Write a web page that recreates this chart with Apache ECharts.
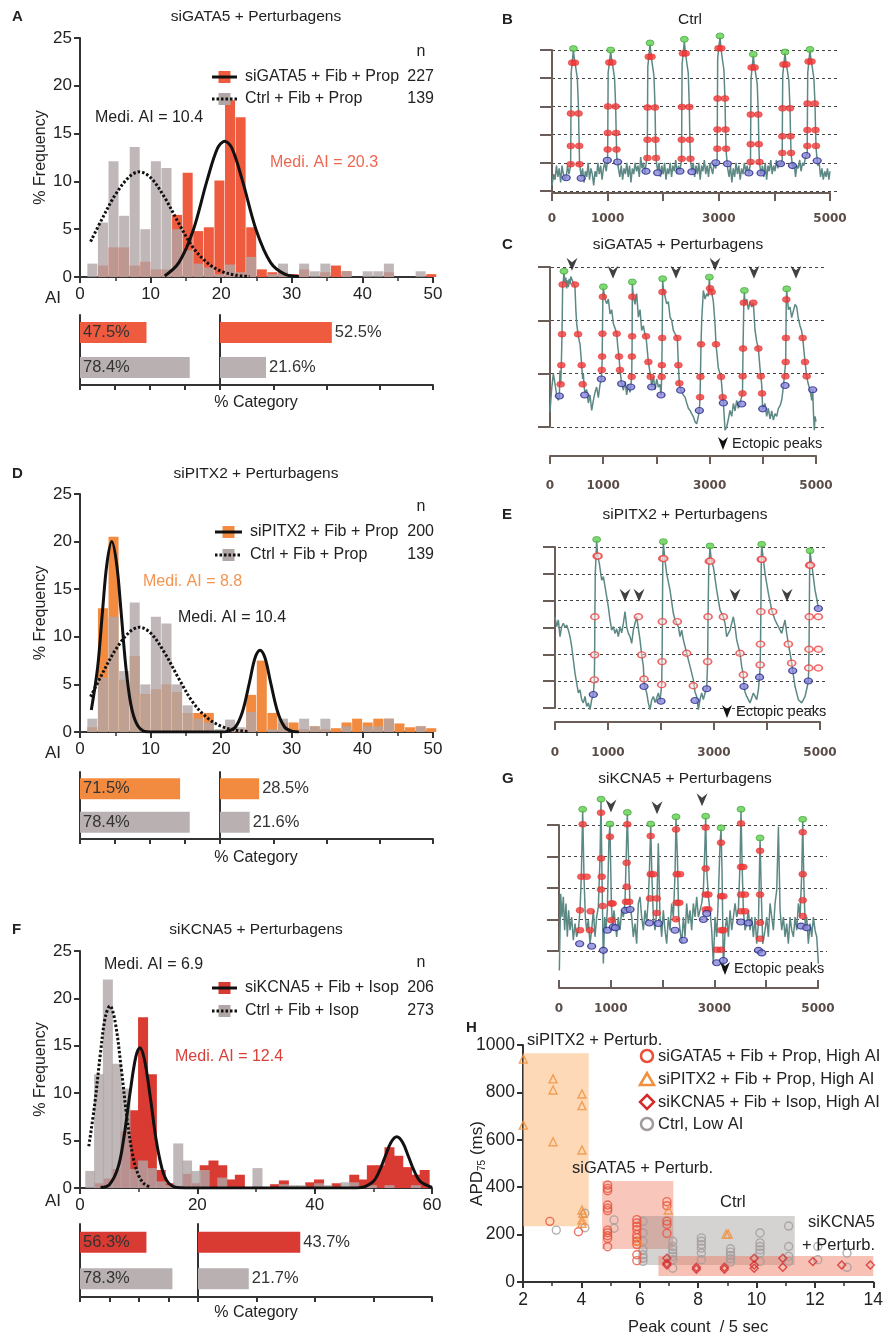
<!DOCTYPE html>
<html><head><meta charset="utf-8">
<script src="https://cdn.jsdelivr.net/npm/echarts@6/dist/echarts.min.js"></script>
<style>html,body{margin:0;padding:0;background:#fff}#chart{width:886px;height:1338px}</style>
</head><body><div id="chart"></div>
<script>
// ---------- histogram data (% frequency per AI bin) ----------
var bins50 = [1.75,3.25,4.75,6.25,7.75,9.25,10.75,12.25,13.75,15.25,16.75,18.25,19.75,21.25,22.75,24.25,25.75,27.25,28.75,30.25,31.75,33.25,34.75,36.25,37.75,39.25,40.75,42.25,43.75,45.25,46.75,48.25,49.75];
var bins60 = [1.75,3.25,4.75,6.25,7.75,9.25,10.75,12.25,13.75,15.25,16.75,18.25,19.75,21.25,22.75,24.25,25.75,27.25,28.75,30.25,31.75,33.25,34.75,36.25,37.75,39.25,40.75,42.25,43.75,45.25,46.75,48.25,49.75,51.25,52.75,54.25,55.75,57.25,58.75];

var ctrlProp = [1.4,5.7,12.1,6.4,13.6,5.0,12.1,11.4,5.0,2.8,1.4,1.0,0.3,1.3,0.5,2.1,0,0.3,1.4,0,1.4,0.6,1.4,0,0.6,0,0.6,0.6,1.4,0,0,0.6,0];
var siGATA5 = [0,1.2,3.1,3.1,1.2,1.6,0.8,0.8,6.5,10.9,4.8,5.2,10.1,18.5,16.7,5.2,0.8,0.5,0.5,0.3,0.8,0,0.5,1.2,0.6,0,0,0,0.5,0,0,0,0.3];
var siPITX2 = [0.5,13.0,20.5,5.5,8.0,4.0,4.5,5.0,4.2,2.0,2.0,2.0,0,0.3,0.3,3.9,7.5,2.0,1.0,1.0,0.3,0.6,0.3,0.4,1.0,1.4,1.0,1.4,1.4,0.9,0.5,0.6,0.4];
var ctrlIsop = [1.8,12,22,13.1,10.5,2,2.9,2.1,0.7,0.3,4.7,2.9,1.8,1.9,0,1.1,0,0,0,2.1,0,0,0.4,0.3,0.3,0,0.5,0.3,0,0.6,0.6,0,0.3,0,0.3,0,0,0.3,0];
var siKCNA5 = [0,0.5,1,2,6,8.2,18,12,1.9,0.5,0,1.5,0.5,2.4,2.9,2.4,0.9,1.4,0,0,0,0.4,0.8,0,0,0.6,0.9,0,0.5,0,1.4,0.9,2.4,2.4,4.3,3.4,2.2,1.4,1.9];

// fitted curves
var fitCtrlProp = [[1.5,3.7],[3,5.9],[5,8.6],[7,10.5],[8.4,11],[10,10.4],[12,8.3],[14,5.6],[16,3.1],[18,1.5],[20,0.6],[22,0.2],[24,0.05]];
var fitGATA5 = [[12,0.1],[14,1.5],[16,4.8],[18,10.1],[19.5,13.5],[20.5,14.2],[21.5,13.5],[23,10.1],[25,4.8],[27,1.5],[29,0.3],[31,0.05]];
var fitPITX2 = [[1.6,2.3],[2.5,6.8],[3.2,12.8],[3.8,17.6],[4.5,20],[5.2,17.6],[5.8,12.8],[6.5,6.8],[7.2,2.9],[8,0.9],[9,0.1],[10,0],[15,0],[20,0],[21,0.1],[22,0.5],[23,2.1],[24,5.2],[24.8,7.8],[25.5,8.6],[26.2,7.8],[27,5.2],[28,2.1],[29,0.5],[30,0.1],[31,0]];
var fitCtrlIsop = [[1.5,4.4],[2.5,8.8],[3.5,14.3],[4.3,18],[5.1,19.2],[6,17.5],[7,12.8],[8,7.4],[9,3.4],[10,1.3],[11,0.4],[12,0.1]];
var fitKCNA5 = [[3.5,0.05],[5,0.35],[6.5,2.2],[7.5,5.4],[8.5,9.9],[9.5,13.8],[10.2,14.8],[11,13.5],[12,9.5],[13,5.0],[14,2.0],[15,0.6],[16.5,0.05],[18,0],[30,0],[46,0],[48,0.06],[50,0.7],[51,1.75],[52,3.3],[53,4.8],[54,5.4],[55,4.8],[56,3.3],[57,1.75],[58,0.7],[60,0.06]];

// % category (AI < 20 , AI >= 20): [perturbed, ctrl]
var catA_low = [47.5,78.4], catA_high = [52.5,21.6];
var catD_low = [71.5,78.4], catD_high = [28.5,21.6];
var catF_low = [56.3,78.3], catF_high = [43.7,21.7];

// ---------- traces: [time ms, level] ----------
var timeLabels = [0,1000,3000,5000];

var traceB = [[0,0.2],[30,0.6],[55,0.4],[80,0.9],[105,0.5],[130,0.8],[155,0.3],[180,0.9],[205,0.6],[230,0.4],[255,0.5],[280,0.9],[305,0.6],[335,0.9],
[340,2.5],[345,4.2],[365,4.6],[385,5.0],[400,4.7],[425,4.4],[455,4.0],[475,3.0],[485,2.0],[495,1.0],[525,0.5],
[550,0.8],[575,0.3],[600,0.7],[625,0.5],[650,1.0],[675,0.4],[700,0.8],[725,0.6],[750,0.2],[775,0.7],[800,0.5],[825,1.0],[850,0.6],[875,0.9],[900,0.4],[925,0.8],[950,1.0],[975,0.7],[1000,1.1],
[1005,2.6],[1010,4.2],[1035,4.6],[1055,4.95],[1070,4.7],[1095,4.4],[1125,4.0],[1145,3.0],[1155,2.0],[1165,1.2],[1195,0.8],
[1220,0.5],[1245,0.9],[1270,0.4],[1295,0.8],[1320,0.6],[1345,1.0],[1370,0.5],[1395,0.9],[1420,0.3],[1445,0.8],[1470,0.6],[1495,1.0],[1520,0.7],[1545,0.9],[1570,0.5],[1595,1.2],[1620,0.8],[1645,1.0],[1670,0.6],[1700,1.1],[1713,1.2],
[1718,2.8],[1723,4.4],[1743,4.8],[1763,5.2],[1778,4.9],[1803,4.5],[1833,4.1],[1853,3.0],[1863,1.8],[1873,1.1],[1900,0.7],
[1925,1.0],[1950,0.5],[1975,0.9],[2000,0.6],[2025,1.0],[2050,0.4],[2075,0.8],[2100,0.6],[2125,1.0],[2150,0.5],[2175,0.9],[2200,0.7],[2225,1.1],[2250,0.6],[2275,0.9],[2300,0.7],[2330,1.1],
[2335,2.9],[2340,4.5],[2360,4.9],[2380,5.3],[2395,5.0],[2420,4.6],[2450,4.2],[2470,3.0],[2480,1.8],[2490,1.1],[2515,0.7],
[2540,1.0],[2565,0.5],[2590,0.9],[2615,0.6],[2640,1.0],[2665,0.4],[2690,0.9],[2715,0.7],[2740,1.1],[2765,0.6],[2790,0.9],[2815,0.5],[2840,1.0],[2865,0.8],[2890,0.6],[2915,1.0],[2945,0.8],[2970,1.1],
[2975,3.0],[2980,4.7],[3000,5.1],[3022,5.45],[3037,5.1],[3062,4.7],[3092,4.3],[3112,3.2],[3122,2.1],[3132,1.4],[3160,0.8],
[3185,0.5],[3210,0.9],[3235,0.3],[3260,0.8],[3285,0.5],[3310,1.0],[3335,0.6],[3360,0.9],[3385,0.4],[3410,0.8],[3435,0.6],[3460,1.0],[3485,0.7],[3510,0.9],[3540,0.6],[3570,1.0],
[3575,2.6],[3580,4.0],[3600,4.4],[3621,4.8],[3636,4.5],[3661,4.2],[3691,3.8],[3711,2.7],[3721,1.6],[3731,1.0],[3760,0.6],
[3785,0.9],[3810,0.5],[3835,1.0],[3860,0.4],[3885,0.9],[3910,0.7],[3935,1.1],[3960,0.6],[3985,0.9],[4010,0.7],[4035,1.1],[4060,0.8],[4085,1.0],[4110,0.9],[4140,1.1],
[4145,2.8],[4150,4.1],[4170,4.5],[4191,4.9],[4206,4.6],[4231,4.3],[4261,3.9],[4281,2.9],[4291,1.9],[4301,1.3],[4330,0.8],
[4355,1.0],[4380,0.5],[4405,0.9],[4430,0.8],[4455,1.1],[4480,0.7],[4505,1.0],[4530,0.9],[4560,1.2],[4590,1.3],
[4595,3.0],[4600,4.2],[4620,4.6],[4640,5.0],[4655,4.7],[4680,4.4],[4710,4.0],[4730,3.1],[4740,2.2],[4750,1.5],[4780,0.9],
[4805,1.0],[4830,0.5],[4855,0.8],[4880,0.4],[4905,0.7],[4930,0.5],[4955,0.8],[4980,0.4],[5000,0.7]];
var peaksB = [[385,5.05],[1055,5.0],[1763,5.25],[2380,5.38],[3022,5.5],[3621,4.85],[4191,4.93],[4640,5.02]];
var redB = [[362,4.55],[412,4.55],[340,2.75],[478,2.75],[338,1.6],[489,1.6],[336,0.95],[495,0.95],
[1030,4.56],[1085,4.56],[1006,3.0],[1145,3.0],[1004,2.06],[1154,2.06],[1002,1.47],[1160,1.47],
[1740,4.76],[1790,4.76],[1719,2.96],[1853,2.96],[1717,1.82],[1862,1.82],[1715,1.17],[1871,1.17],
[2355,4.88],[2405,4.88],[2336,2.98],[2470,2.98],[2334,1.82],[2480,1.82],[2332,1.14],[2490,1.14],
[2995,5.06],[3045,5.06],[2977,3.28],[3112,3.28],[2975,2.18],[3122,2.18],[2973,1.5],[3131,1.5],
[3590,4.38],[3645,4.38],[3576,2.71],[3711,2.71],[3574,1.66],[3721,1.66],[3572,1.03],[3731,1.03],
[4162,4.49],[4215,4.49],[4146,2.93],[4281,2.93],[4144,1.94],[4291,1.94],[4142,1.35],[4300,1.35],
[4615,4.59],[4668,4.59],[4596,3.1],[4729,3.1],[4594,2.16],[4740,2.16],[4592,1.6],[4748,1.6]];
var blueB = [[255,0.47],[525,0.45],[995,1.09],[1180,1.03],[1690,0.7],[1900,0.65],[2300,0.7],[2515,0.68],[2945,1.0],[3155,0.97],[3540,0.64],[3760,0.64],[4110,0.97],[4325,0.9],[4570,1.26],[4770,1.07]];

var traceC = [[0,0.28],[30,0.7],[62,1.0],[94,0.81],[125,0.6],[156,0.5],[175,0.58],[187,1.06],[200,0.8],[212,1.16],[225,1.74],[237,2.67],[250,2.75],[262,2.89],[281,2.7],[297,2.8],[312,2.6],[328,2.75],[344,2.62],[360,2.78],[375,2.68],[390,2.82],[406,2.84],[437,2.7],[468,2.62],[484,2.2],[500,1.94],[525,1.74],[550,1.6],[562,1.56],[593,1.16],[612,0.9],[624,1.0],[640,0.75],[656,0.63],[687,0.7],[718,0.45],[749,0.6],[781,0.31],[812,0.5],[843,0.65],[874,0.75],[905,0.55],[937,0.8],[962,0.9],[975,1.2],[980,1.6],[990,2.44],[999,2.6],[1030,2.4],[1062,2.31],[1093,2.4],[1124,2.12],[1155,2.2],[1186,1.94],[1218,1.85],[1249,1.75],[1270,1.5],[1292,1.32],[1311,1.07],[1342,0.81],[1374,0.69],[1405,0.85],[1436,0.6],[1467,0.8],[1498,0.65],[1511,0.75],[1530,0.94],[1537,1.5],[1542,2.69],[1561,2.44],[1592,2.3],[1623,2.5],[1655,2.06],[1686,2.2],[1717,1.81],[1748,1.9],[1775,1.75],[1798,1.7],[1842,1.22],[1886,0.94],[1904,0.75],[1936,0.95],[1967,0.7],[1998,0.9],[2029,0.75],[2060,0.8],[2079,0.6],[2092,0.94],[2100,1.6],[2110,2.75],[2123,2.6],[2154,2.45],[2185,2.31],[2216,2.35],[2248,2.06],[2279,2.0],[2310,1.81],[2341,1.75],[2385,1.67],[2404,1.16],[2422,0.82],[2447,0.69],[2466,0.72],[2497,0.6],[2529,0.56],[2560,0.45],[2591,0.35],[2622,0.31],[2653,0.25],[2685,0.19],[2716,0.1],[2747,0.06],[2778,0.2],[2797,0.31],[2810,0.56],[2828,1.55],[2841,2.0],[2872,2.56],[2903,2.4],[2934,2.5],[2966,2.45],[2984,2.78],[2997,2.6],[3028,2.53],[3059,2.35],[3090,1.94],[3109,1.55],[3153,1.1],[3203,0.94],[3234,0.56],[3247,0.45],[3278,-0.06],[3309,0.0],[3340,0.15],[3371,0.31],[3403,0.2],[3434,0.44],[3465,0.3],[3496,0.5],[3527,0.35],[3559,0.45],[3590,0.43],[3605,0.63],[3615,1.47],[3630,2.33],[3640,2.53],[3652,2.3],[3684,2.4],[3715,2.2],[3746,2.35],[3777,2.25],[3808,2.33],[3840,1.81],[3871,1.6],[3902,1.47],[3933,1.1],[3964,0.8],[3983,0.34],[4027,0.44],[4058,0.2],[4089,0.35],[4121,0.15],[4152,0.3],[4183,0.13],[4214,0.25],[4245,0.2],[4277,0.35],[4308,0.4],[4339,0.5],[4370,0.75],[4402,0.78],[4414,1.22],[4425,2.39],[4433,2.56],[4464,2.2],[4495,2.25],[4526,2.05],[4558,2.06],[4589,2.3],[4620,2.25],[4651,2.03],[4682,1.9],[4713,1.8],[4732,1.67],[4776,1.22],[4807,0.95],[4838,0.8],[4870,0.69],[4901,0.5],[4920,0.7],[4932,0.31],[4950,-0.06],[4963,0.2],[4982,0.1]];
var peaksC = [[262,2.92],[999,2.63],[1542,2.72],[2110,2.78],[2984,2.81],[3640,2.56],[4433,2.59]];
var redC = [[200,0.8],[212,1.16],[225,1.74],[237,2.67],[468,2.67],[525,1.74],[593,1.16],[612,0.8],
[970,1.07],[976,1.32],[982,1.75],[990,2.44],[1249,1.75],[1292,1.32],[1311,1.07],
[1530,0.94],[1534,1.32],[1538,1.7],[1541,2.44],[1798,1.7],[1842,1.22],[1886,0.94],
[2092,0.94],[2095,1.16],[2101,1.67],[2107,2.53],[2385,1.67],[2404,1.16],[2422,0.82],
[2810,0.56],[2817,0.94],[2828,1.55],[2997,2.6],[3028,2.53],[3109,1.55],[3203,0.94],[3234,0.56],
[3605,0.63],[3609,0.95],[3615,1.47],[3630,2.33],[3808,2.33],[3902,1.47],[3948,0.95],[3971,0.63],
[4408,0.95],[4414,1.22],[4418,1.67],[4425,2.39],[4732,1.67],[4776,1.22],[4807,0.95]];
var blueC = [[175,0.58],[650,0.6],[962,0.9],[1342,0.81],[1511,0.75],[1904,0.75],[2079,0.6],[2447,0.69],[2797,0.31],[3247,0.45],[3590,0.43],[3983,0.34],[4402,0.78],[4920,0.7]];
var arrowsC = [[412,3.05],[1180,2.9],[2360,2.9],[3090,3.05],[3820,2.9],[4607,2.9]];

var traceE = [[0,3.4],[32,3.03],[63,3.28],[94,2.66],[126,3.03],[157,3.16],[189,3.0],[220,3.09],[252,2.9],[283,2.66],[315,2.29],[346,1.79],[377,1.3],[409,0.93],[440,0.56],[472,0.68],[503,0.31],[535,0.19],[566,0.43],[598,0.06],[629,0.19],[661,-0.06],[692,0.31],[723,0.5],[742,1.05],[748,2.0],[752,3.4],[760,5.0],[786,6.25],[805,5.66],[837,5.38],[881,4.76],[912,4.9],[944,4.52],[975,4.15],[1006,3.77],[1038,3.28],[1069,2.9],[1101,3.03],[1132,2.78],[1164,2.95],[1195,2.66],[1227,3.03],[1258,2.8],[1290,3.16],[1321,3.59],[1352,3.03],[1384,2.78],[1415,2.66],[1447,2.41],[1478,2.9],[1510,3.16],[1541,3.4],[1573,3.47],[1604,2.54],[1635,1.98],[1667,1.55],[1679,1.08],[1695,0.8],[1730,0.56],[1761,0.19],[1793,-0.06],[1825,0.3],[1856,0.43],[1888,0.2],[1919,0.19],[1950,0.56],[1981,0.25],[2000,0.25],[2013,0.87],[2020,1.73],[2026,3.22],[2034,5.57],[2044,6.16],[2075,5.5],[2107,5.01],[2170,4.39],[2233,3.53],[2264,3.28],[2296,3.22],[2327,3.03],[2359,2.66],[2390,2.9],[2422,2.54],[2485,2.04],[2548,1.55],[2610,1.05],[2642,0.6],[2673,0.43],[2705,-0.06],[2736,0.31],[2768,0.56],[2799,0.31],[2831,0.56],[2862,0.72],[2880,1.73],[2888,3.4],[2900,5.2],[2925,6.0],[2950,5.47],[2988,5.26],[3051,4.39],[3114,3.65],[3177,3.4],[3208,3.16],[3239,2.66],[3302,2.9],[3365,3.4],[3397,3.03],[3428,2.54],[3491,2.04],[3522,1.55],[3554,1.24],[3566,0.8],[3585,0.6],[3617,0.43],[3680,0.19],[3743,0.56],[3806,0.31],[3837,0.68],[3860,1.15],[3872,1.61],[3878,2.38],[3884,3.59],[3892,5.54],[3900,6.06],[3963,5.01],[4026,4.27],[4089,3.65],[4107,3.59],[4151,3.28],[4214,3.03],[4277,2.78],[4340,3.28],[4372,2.78],[4403,2.38],[4435,2.04],[4466,1.67],[4485,1.39],[4529,0.8],[4592,0.31],[4655,0.19],[4718,0.43],[4760,0.8],[4780,1.01],[4788,1.49],[4793,2.19],[4798,3.4],[4805,5.32],[4812,5.82],[4875,4.89],[4906,4.39],[4938,4.08],[4969,3.71]];
var peaksE = [[786,6.28],[2044,6.2],[2925,6.04],[3900,6.1],[4812,5.86]];
var redE = [[742,1.05],[748,1.98],[752,3.4],[795,5.66],[812,5.66],[1573,3.4],[1635,1.98],[1679,1.08],
[2013,0.87],[2020,1.73],[2026,3.22],[2034,5.57],[2052,5.57],[2308,3.22],[2485,2.04],[2610,0.83],
[2880,1.73],[2888,3.4],[2912,5.47],[2935,5.47],[3177,3.4],[3491,2.04],[3554,1.24],
[3872,1.61],[3878,2.38],[3884,3.59],[3892,5.54],[3908,5.54],[4107,3.59],[4403,2.38],[4466,1.67],
[4788,1.49],[4793,2.19],[4798,3.4],[4805,5.32],[4822,5.32],[4969,3.4],[4969,2.19],[4969,1.49]];
var blueE = [[723,0.5],[1679,0.8],[2000,0.25],[2642,0.28],[2862,0.72],[3566,0.8],[3860,1.15],[4485,1.39],[4780,1.01],[4969,3.71]];
var arrowsE = [[1321,4.2],[1585,4.2],[3397,4.2],[4378,4.2]];

var traceG = [[7,-0.62],[32,1.82],[58,1.08],[83,1.72],[109,0.66],[134,1.51],[160,0.45],[185,1.29],[211,0.66],[243,1.08],[275,0.34],[307,0.87],[339,0.45],[371,0.66],[403,1.29],[428,2.36],[454,4.45],[479,2.36],[505,1.08],[530,0.66],[562,0.98],[594,0.23],[626,0.66],[658,1.29],[690,0.45],[722,1.08],[754,1.40],[786,2.94],[805,4.77],[824,2.36],[850,-0.4],[875,1.08],[901,0.66],[926,1.29],[958,3.63],[977,3.98],[1003,1.51],[1028,0.76],[1054,1.29],[1080,0.87],[1105,0.45],[1137,1.08],[1169,0.66],[1201,1.29],[1233,1.08],[1265,1.56],[1284,2.78],[1309,4.35],[1335,2.78],[1361,1.40],[1393,1.08],[1424,0.45],[1456,0.87],[1488,0.23],[1520,1.51],[1552,1.72],[1584,1.08],[1616,0.66],[1648,1.29],[1680,0.92],[1712,1.67],[1731,2.46],[1757,3.98],[1782,2.25],[1808,1.08],[1840,0.66],[1872,1.29],[1903,3.42],[1935,1.08],[1967,0.45],[1999,1.29],[2031,0.66],[2063,0.23],[2095,1.08],[2127,0.66],[2159,1.51],[2191,1.08],[2223,2.46],[2242,4.21],[2268,2.99],[2293,1.08],[2319,0.66],[2351,0.23],[2383,1.08],[2414,0.45],[2446,1.51],[2478,0.87],[2510,1.29],[2542,0.66],[2574,1.51],[2606,1.08],[2638,1.72],[2670,1.08],[2702,1.29],[2734,1.51],[2766,1.93],[2791,3.10],[2810,4.23],[2830,2.57],[2862,1.72],[2893,1.29],[2925,0.66],[2957,-0.40],[2989,1.08],[3021,0.45],[3053,1.72],[3085,3.42],[3104,3.86],[3123,2.57],[3149,-0.62],[3181,0.66],[3213,1.08],[3245,0.45],[3277,1.29],[3309,0.66],[3341,1.08],[3372,1.51],[3404,1.08],[3436,1.29],[3468,2.78],[3487,4.45],[3507,2.78],[3532,1.29],[3564,0.66],[3596,0.87],[3628,1.29],[3660,0.66],[3692,1.08],[3724,0.45],[3756,1.08],[3788,0.23],[3820,0.87],[3852,3.54],[3877,1.72],[3903,0.23],[3947,0.66],[3979,1.08],[4011,0.45],[4043,1.51],[4075,1.08],[4107,0.66],[4139,1.51],[4171,1.93],[4203,3.95],[4235,1.29],[4267,0.66],[4299,1.08],[4331,0.45],[4362,0.87],[4394,0.23],[4426,1.08],[4458,0.66],[4490,0.45],[4522,1.08],[4554,0.66],[4586,1.51],[4618,1.08],[4650,2.46],[4669,4.13],[4694,1.93],[4720,0.66],[4746,1.08],[4777,0.23],[4809,0.87],[4841,0.45],[4873,1.08],[4905,0.66],[4937,0.45],[4969,-0.40]];
var peaksG = [[454,4.5],[805,4.82],[977,4.03],[1309,4.4],[1757,4.03],[2242,4.26],[2810,4.28],[3104,3.91],[3487,4.5],[3852,3.59],[4669,4.18]];
var redG = [[454,4.02],[428,2.36],[530,2.36],[403,1.29],[403,0.66],[594,0.66],[607,1.26],
[805,4.39],[805,2.94],[818,2.36],[805,1.95],[837,1.43],
[977,3.63],[1003,1.51],[1028,1.51],[1003,0.98],
[1309,4.02],[1297,2.80],[1297,2.04],[1284,1.56],[1345,1.56],
[1757,3.65],[1757,2.44],[1808,2.44],[1744,1.67],[1872,1.67],[1872,1.21],
[2242,3.86],[2255,2.44],[2319,2.44],[2255,1.53],[2306,1.53],[2242,1.01],
[2810,3.92],[2810,2.62],[2810,1.79],[2862,1.79],[2810,1.32],[2862,1.32],
[3104,3.44],[3104,1.74],[3149,1.74],[3104,0.66],[3149,0.66],[3021,0.04],[3104,0.04],
[3487,4.05],[3487,2.67],[3532,2.67],[3487,1.79],[3564,1.79],[3487,1.26],[3564,1.26],
[3852,3.18],[3852,1.79],[3852,0.9],[3852,0.39],
[4669,3.77],[4669,2.44],[4669,1.61],[4669,1.11]];
var blueG = [[396,0.23],[626,0.15],[850,0.02],[926,0.66],[1041,0.76],[1080,0.74],[1271,1.29],[1361,1.32],[1731,0.89],[1903,0.87],[2223,0.66],[2383,0.34],[2766,1.0],[2830,1.19],[3021,-0.37],[3149,-0.3],[3481,0.92],[3628,0.89],[3820,0.02],[3884,-0.06],[4637,0.79],[4746,0.74]];
var arrowsG = [[996,4.6],[1878,4.55],[2740,4.8]];

// ---------- panel H: APD75 vs peak count ----------
var gata5H = [[2.92,256],[3.9,212],[4.9,409],[4.9,395],[4.9,385],[4.9,325],[4.9,311],[4.9,301],[4.9,219],[4.9,208],[4.9,195],[4.9,184],[4.9,149],[5.9,263],[5.9,249],[5.9,235],[5.9,221],[5.9,200],[5.9,186],[5.9,172],[5.9,158],[5.9,115],[5.9,90],[6.93,339],[6.93,322],[6.93,257],[6.93,243],[6.93,205]];
var pitx2H = [[2.01,941],[2.01,662],[3.03,857],[3.03,810],[3.03,592],[4.02,793],[4.02,744],[4.02,557],[4.02,304],[4.05,290],[4.02,262],[4.02,248],[5.94,173],[6.98,304],[8.96,202],[9.03,202]];
var kcna5H = [[6.93,100],[6.93,79],[6.93,72],[7.94,62],[7.94,54],[8.9,62],[8.9,54],[9.92,100],[9.92,72],[9.92,58],[10.9,100],[10.9,62],[11.93,86],[12.92,72],[13.9,72]];
var ctrlH = [[3.14,219],[4.12,229],[4.12,290],[5.12,262],[5.12,227],[6.11,256],[6.11,207],[6.11,172],[6.11,136],[6.11,115],[6.11,101],[6.11,87],[7.13,58],[7.13,172],[7.13,150],[7.13,136],[7.13,122],[7.13,108],[7.13,94],[8.11,186],[8.11,172],[8.11,158],[8.11,143],[8.11,122],[8.11,94],[9.11,140],[9.11,126],[9.11,112],[9.11,98],[9.11,84],[10.12,207],[10.12,165],[10.12,150],[10.12,136],[10.12,122],[10.12,87],[11.1,236],[11.1,150],[11.1,108],[11.1,87],[12.1,150],[12.1,94],[13.1,122],[13.1,62]];
// shaded ranges [x0, x1, y0, y1]
var boxPITX2 = [2, 4.25, 235, 965];
var boxGATA5 = [4.71, 7.15, 139, 426];
var boxCtrl = [5.97, 11.31, 72, 278];
var boxKCNA5 = [6.64, 14.1, 25, 110];

// ---------- build ----------
var FONT = "'Liberation Sans',Arial,sans-serif";
var AX = '#333333';
var TAX = '#6b5d57';
var GRAY = '#b0a6a6', GRAY2 = '#b9b1b1';
var RED_A = '#ef5b3f', ORANGE = '#f28b40', RED_F = '#d93a32';

var grids = [], xAxes = [], yAxes = [], series = [], graphics = [];

function addGrid(l, t, w, h) { grids.push({ left: l, top: t, width: w, height: h }); return grids.length - 1; }

function histPanel(top, w, h, xmax, xint, binX, fg, bg, fgColor, solid, dotted) {
  var g = addGrid(80, top, w, h);
  xAxes.push({ gridIndex: g, type: 'value', min: 0, max: xmax, interval: xint,
    axisLine: { lineStyle: { color: AX, width: 2 } },
    axisTick: { length: 6, lineStyle: { color: AX, width: 2 } },
    minorTick: { show: true, splitNumber: 2, length: 4, lineStyle: { color: AX, width: 1.5 } },
    splitLine: { show: false },
    axisLabel: { fontFamily: FONT, fontSize: 17, color: '#222', margin: 9 } });
  yAxes.push({ gridIndex: g, type: 'value', min: 0, max: 25, interval: 5,
    name: '% Frequency', nameLocation: 'middle', nameGap: 31, nameMoveOverlap: false,
    nameTextStyle: { fontFamily: FONT, fontSize: 16, color: '#222' },
    axisLine: { show: true, lineStyle: { color: AX, width: 2 } },
    axisTick: { show: true, length: 6, lineStyle: { color: AX, width: 2 } },
    splitLine: { show: false },
    axisLabel: { fontFamily: FONT, fontSize: 17, color: '#222', margin: 8 } });
  var xi = xAxes.length - 1, yi = yAxes.length - 1;
  series.push({ type: 'bar', xAxisIndex: xi, yAxisIndex: yi, barWidth: 10, barGap: '-100%', silent: true,
    data: binX.map(function (x, i) { return [x, fg[i]]; }), itemStyle: { color: fgColor } });
  series.push({ type: 'bar', xAxisIndex: xi, yAxisIndex: yi, barWidth: 10, barGap: '-100%', silent: true,
    data: binX.map(function (x, i) { return [x, bg[i]]; }), itemStyle: { color: GRAY, opacity: 0.8 } });
  series.push({ type: 'line', xAxisIndex: xi, yAxisIndex: yi, data: solid, smooth: 0.35, showSymbol: false, silent: true,
    lineStyle: { color: '#111', width: 3 }, z: 5 });
  series.push({ type: 'line', xAxisIndex: xi, yAxisIndex: yi, data: dotted, smooth: 0.35, showSymbol: false, silent: true,
    lineStyle: { color: '#111', width: 3, type: [2.5, 2] }, z: 5 });
}

function catGrid(left, top, w, h, max, vals, color, labelPos) {
  var g = addGrid(left, top, w, h);
  xAxes.push({ gridIndex: g, type: 'value', min: 0, max: max, interval: max / 4,
    axisLine: { show: true, lineStyle: { color: AX, width: 2 } },
    axisTick: { show: true, length: 5, lineStyle: { color: AX, width: 2 } },
    axisLabel: { show: false }, splitLine: { show: false } });
  yAxes.push({ gridIndex: g, type: 'category', data: ['pert', 'ctrl'], inverse: true,
    axisLine: { show: true, lineStyle: { color: AX, width: 2 } },
    axisTick: { show: false }, axisLabel: { show: false } });
  series.push({ type: 'bar', xAxisIndex: xAxes.length - 1, yAxisIndex: yAxes.length - 1, barWidth: 21, silent: true,
    data: [{ value: vals[0], itemStyle: { color: color } }, { value: vals[1], itemStyle: { color: GRAY2 } }],
    label: { show: true, position: labelPos, distance: 3, formatter: '{c}%', fontFamily: FONT, fontSize: 16.5, color: '#333' } });
}

function tracePanel(l, t, w, h, ymax, tmin, tmax, trace, peaks, red, blue, arrows, hollowRed) {
  var g = addGrid(l, t, w, h);
  xAxes.push({ gridIndex: g, type: 'value', min: tmin, max: tmax, show: false });
  yAxes.push({ gridIndex: g, type: 'value', min: 0, max: ymax, interval: 1,
    axisLine: { show: true, lineStyle: { color: TAX, width: 2 } },
    axisTick: { show: true, length: 12, lineStyle: { color: TAX, width: 2 } },
    axisLabel: { show: false },
    splitLine: { show: true, lineStyle: { color: '#444', width: 1, type: [3, 3] } } });
  var xi = xAxes.length - 1, yi = yAxes.length - 1;
  series.push({ type: 'line', xAxisIndex: xi, yAxisIndex: yi, data: trace, showSymbol: false, clip: false, silent: true,
    lineStyle: { color: '#5d8985', width: 1.5 }, z: 2 });
  series.push({ type: 'scatter', xAxisIndex: xi, yAxisIndex: yi, data: red, clip: false, silent: true, symbolSize: [8, 6], z: 3,
    itemStyle: hollowRed ? { color: 'rgba(255,220,220,0.6)', borderColor: '#e84545', borderWidth: 1.5 } : { color: '#f03a3a', borderColor: '#e02020', borderWidth: 0.5 } });
  series.push({ type: 'scatter', xAxisIndex: xi, yAxisIndex: yi, data: blue, clip: false, silent: true, symbolSize: [8, 6], z: 3,
    itemStyle: { color: '#8888d8', borderColor: '#2a2a8a', borderWidth: 1.2 } });
  series.push({ type: 'scatter', xAxisIndex: xi, yAxisIndex: yi, data: peaks, clip: false, silent: true, symbolSize: [8, 6], z: 4,
    itemStyle: { color: '#5fcf4f', borderColor: '#3a9a30', borderWidth: 0.8 } });
  if (arrows) {
    series.push({ type: 'scatter', xAxisIndex: xi, yAxisIndex: yi, data: arrows, clip: false, silent: true,
      symbol: 'path://M0,0L5,4L10,0L5,12Z', symbolSize: [11, 13], itemStyle: { color: '#111' }, z: 4 });
  }
}

function timeAxis(l, y, w, inside, margin) {
  var g = addGrid(l, y - 1, w, 1);
  xAxes.push({ gridIndex: g, type: 'value', min: 0, max: 5000, interval: 1000,
    axisLine: { lineStyle: { color: TAX, width: 2 } },
    axisTick: { inside: inside, length: 8, lineStyle: { color: TAX, width: 2 } },
    splitLine: { show: false },
    axisLabel: { margin: margin, fontFamily: "'DejaVu Sans'", fontWeight: 'bold', fontSize: 12, color: '#5a4d48',
      formatter: function (v) { return timeLabels.indexOf(v) >= 0 ? String(v) : ''; } } });
  yAxes.push({ gridIndex: g, type: 'value', min: 0, max: 1, show: false });
}

function T(x, y, s, o) {
  o = o || {};
  graphics.push({ type: 'text', x: x, y: y, z: 100, silent: true,
    style: { text: s, font: (o.bold ? 'bold ' : '') + (o.size || 16) + 'px ' + FONT,
      fill: o.color || '#222', textAlign: o.align || 'left', textVerticalAlign: 'middle' } });
}
function legendIcon(x1, x2, y, color, dotted) {
  var cx = (x1 + x2) / 2;
  graphics.push({ type: 'rect', z: 100, silent: true, shape: { x: cx - 6, y: y - 6, width: 12, height: 12 }, style: { fill: color } });
  graphics.push({ type: 'line', z: 101, silent: true, shape: { x1: x1, y1: y, x2: x2, y2: y },
    style: { stroke: '#111', lineWidth: 3, lineDash: dotted ? [2.5, 2] : null } });
}
function ectopic(x, y) {
  graphics.push({ type: 'polygon', z: 100, silent: true, shape: { points: [[x - 5, y - 7], [x, y - 3], [x + 5, y - 7], [x, y + 6]] }, style: { fill: '#111' } });
  T(x + 9, y, 'Ectopic peaks', { size: 14.5 });
}

// ---- left column: histograms ----
histPanel(38, 353, 239, 50, 10, bins50, siGATA5, ctrlProp, RED_A, fitGATA5, fitCtrlProp);
catGrid(80, 315, 140, 70, 100, catA_low, RED_A, 'insideLeft');
catGrid(220, 315, 213, 70, 100, catA_high, RED_A, 'right');

histPanel(494, 353, 238, 50, 10, bins50, siPITX2, ctrlProp, ORANGE, fitPITX2, fitCtrlProp);
catGrid(80, 772, 140, 67, 100, catD_low, ORANGE, 'insideLeft');
catGrid(220, 772, 213, 67, 155, catD_high, ORANGE, 'right');

histPanel(951, 352, 237, 60, 20, bins60, siKCNA5, ctrlIsop, RED_F, fitKCNA5, fitCtrlIsop);
catGrid(80, 1224, 118, 73, 100, catF_low, RED_F, 'insideLeft');
catGrid(198, 1224, 234, 73, 100, catF_high, RED_F, 'right');

// ---- right column: traces ----
tracePanel(540, 50, 298, 141, 5, -216, 5144, traceB, peaksB, redB, blueB, null, false);
timeAxis(552, 193, 278, false, 20);
tracePanel(539, 267, 286, 160, 3, -206, 5150, traceC, peaksC, redC, blueC, arrowsC, false);
timeAxis(550, 456, 266, false, 24);
tracePanel(546, 547, 282, 161, 6, -170, 5151, traceE, peaksE, redE, blueE, arrowsE, true);
timeAxis(555, 722, 265, false, 25);
tracePanel(550, 825, 277, 126, 4, -172, 5134, traceG, peaksG, redG, blueG, arrowsG, false);
timeAxis(559, 988, 259, true, 15);

// ---- panel H ----
var gH = addGrid(523, 1045, 354, 237);
xAxes.push({ gridIndex: gH, type: 'value', min: 2, max: 14, interval: 2,
  name: 'Peak count  / 5 sec', nameLocation: 'middle', nameGap: 37, nameMoveOverlap: false,
  nameTextStyle: { fontFamily: FONT, fontSize: 16.5, color: '#222' },
  axisLine: { lineStyle: { color: AX, width: 2 } },
  axisTick: { length: 6, lineStyle: { color: AX, width: 2 } },
  minorTick: { show: true, splitNumber: 2, length: 4, lineStyle: { color: AX, width: 1.5 } },
  splitLine: { show: false },
  axisLabel: { fontFamily: FONT, fontSize: 17.5, color: '#222', margin: 9 } });
yAxes.push({ gridIndex: gH, type: 'value', min: 0, max: 1000, interval: 200,
  name: 'APD{s|75} (ms)', nameLocation: 'middle', nameGap: 36, nameMoveOverlap: false,
  nameTextStyle: { fontFamily: FONT, fontSize: 17, color: '#222', rich: { s: { fontFamily: FONT, fontSize: 10, color: '#222', padding: [9, 0, 0, 0] } } },
  axisLine: { show: true, lineStyle: { color: AX, width: 2 } },
  axisTick: { show: true, length: 6, lineStyle: { color: AX, width: 2 } },
  splitLine: { show: false },
  axisLabel: { fontFamily: FONT, fontSize: 17.5, color: '#222', margin: 8, formatter: function (v) { return String(v); } } });
var hx = xAxes.length - 1, hy = yAxes.length - 1;
function box(b, color) { return [{ xAxis: b[0], yAxis: b[3], itemStyle: { color: color } }, { xAxis: b[1], yAxis: b[2] }]; }
series.push({ type: 'scatter', xAxisIndex: hx, yAxisIndex: hy, data: [], silent: true,
  markArea: { silent: true, data: [
    box(boxPITX2, 'rgba(252,186,125,0.55)'),
    box(boxGATA5, 'rgba(240,118,92,0.42)'),
    box(boxCtrl, 'rgba(135,125,125,0.35)'),
    box(boxKCNA5, 'rgba(240,118,92,0.45)')] } });
function hollow(data, symbol, color, size) {
  series.push({ type: 'scatter', xAxisIndex: hx, yAxisIndex: hy, data: data, symbol: symbol, symbolSize: size, silent: true, z: 5,
    itemStyle: { color: 'rgba(255,255,255,0)', borderColor: color, borderWidth: 1.4 } });
}
hollow(ctrlH, 'circle', '#a29b9b', 8);
hollow(gata5H, 'circle', '#e8503a', 8);
hollow(pitx2H, 'triangle', '#f0903c', 8);
hollow(kcna5H, 'diamond', '#d42a2a', 8);

// ---- texts ----
T(12, 17, 'A', { bold: true, size: 15 });
T(256, 17, 'siGATA5 + Perturbagens', { align: 'center', size: 15.5 });
T(421, 52, 'n', { align: 'center' });
legendIcon(212, 237, 77, RED_A, false);
legendIcon(212, 237, 99, GRAY, true);
T(245, 77, 'siGATA5 + Fib + Prop'); T(434, 77, '227', { align: 'right' });
T(245, 99, 'Ctrl + Fib + Prop'); T(434, 99, '139', { align: 'right' });
T(95, 118, 'Medi. AI = 10.4');
T(270, 163, 'Medi. AI = 20.3', { color: '#ef6650' });
T(45, 298, 'AI', { size: 17 });
T(256, 403, '% Category', { align: 'center' });

T(12, 474, 'D', { bold: true, size: 15 });
T(256, 474, 'siPITX2 + Perturbagens', { align: 'center', size: 15.5 });
T(421, 507, 'n', { align: 'center' });
legendIcon(215, 242, 532, ORANGE, false);
legendIcon(215, 242, 555, GRAY, true);
T(250, 532, 'siPITX2 + Fib + Prop'); T(434, 532, '200', { align: 'right' });
T(250, 555, 'Ctrl + Fib + Prop'); T(434, 555, '139', { align: 'right' });
T(143, 582, 'Medi. AI = 8.8', { color: '#f29552' });
T(178, 618, 'Medi. AI = 10.4');
T(45, 753, 'AI', { size: 17 });
T(256, 858, '% Category', { align: 'center' });

T(12, 930, 'F', { bold: true, size: 15 });
T(256, 930, 'siKCNA5 + Perturbagens', { align: 'center', size: 15.5 });
T(104, 965, 'Medi. AI = 6.9');
T(421, 963, 'n', { align: 'center' });
legendIcon(212, 237, 988, RED_F, false);
legendIcon(212, 237, 1011, GRAY, true);
T(245, 988, 'siKCNA5 + Fib + Isop'); T(434, 988, '206', { align: 'right' });
T(245, 1011, 'Ctrl + Fib + Isop'); T(434, 1011, '273', { align: 'right' });
T(175, 1057, 'Medi. AI = 12.4', { color: '#d8403a' });
T(45, 1201, 'AI', { size: 17 });
T(256, 1313, '% Category', { align: 'center' });

T(502, 20, 'B', { bold: true, size: 15 });
T(690, 20, 'Ctrl', { align: 'center', size: 15.5 });
T(502, 245, 'C', { bold: true, size: 15 });
T(678, 245, 'siGATA5 + Perturbagens', { align: 'center', size: 15.5 });
ectopic(723, 444);
T(502, 515, 'E', { bold: true, size: 15 });
T(685, 515, 'siPITX2 + Perturbagens', { align: 'center', size: 15.5 });
ectopic(727, 712);
T(502, 779, 'G', { bold: true, size: 15 });
T(685, 779, 'siKCNA5 + Perturbagens', { align: 'center', size: 15.5 });
ectopic(725, 969);

T(466, 1028, 'H', { bold: true, size: 15 });
T(527, 1040, 'siPITX2 + Perturb.', { size: 16.5 });
T(572, 1168, 'siGATA5 + Perturb.', { size: 16.5 });
T(720, 1202, 'Ctrl', { size: 16.5 });
T(875, 1222, 'siKCNA5', { size: 16.5, align: 'right' });
T(875, 1245, '+ Perturb.', { size: 16.5, align: 'right' });
graphics.push({ type: 'circle', z: 100, silent: true, shape: { cx: 647, cy: 1056, r: 6 }, style: { fill: 'none', stroke: '#e8503a', lineWidth: 2.5 } });
graphics.push({ type: 'polygon', z: 100, silent: true, shape: { points: [[640, 1085], [647, 1073], [654, 1085]] }, style: { fill: 'none', stroke: '#f0903c', lineWidth: 2.5 } });
graphics.push({ type: 'polygon', z: 100, silent: true, shape: { points: [[647, 1095], [654, 1102], [647, 1109], [640, 1102]] }, style: { fill: 'none', stroke: '#d42a2a', lineWidth: 2.5 } });
graphics.push({ type: 'circle', z: 100, silent: true, shape: { cx: 647, cy: 1124, r: 6 }, style: { fill: 'none', stroke: '#a29b9b', lineWidth: 2.5 } });
T(658, 1056, 'siGATA5 + Fib + Prop, High AI', { size: 16.5 });
T(658, 1079, 'siPITX2 + Fib + Prop, High AI', { size: 16.5 });
T(658, 1102, 'siKCNA5 + Fib + Isop, High AI', { size: 16.5 });
T(658, 1124, 'Ctrl, Low AI', { size: 16.5 });

var chart = echarts.init(document.getElementById('chart'), null, { renderer: 'canvas' });
chart.setOption({
  animation: false,
  backgroundColor: '#fff',
  grid: grids,
  xAxis: xAxes,
  yAxis: yAxes,
  series: series,
  graphic: graphics
});
window.addEventListener('resize', chart.resize);
</script></body></html>
